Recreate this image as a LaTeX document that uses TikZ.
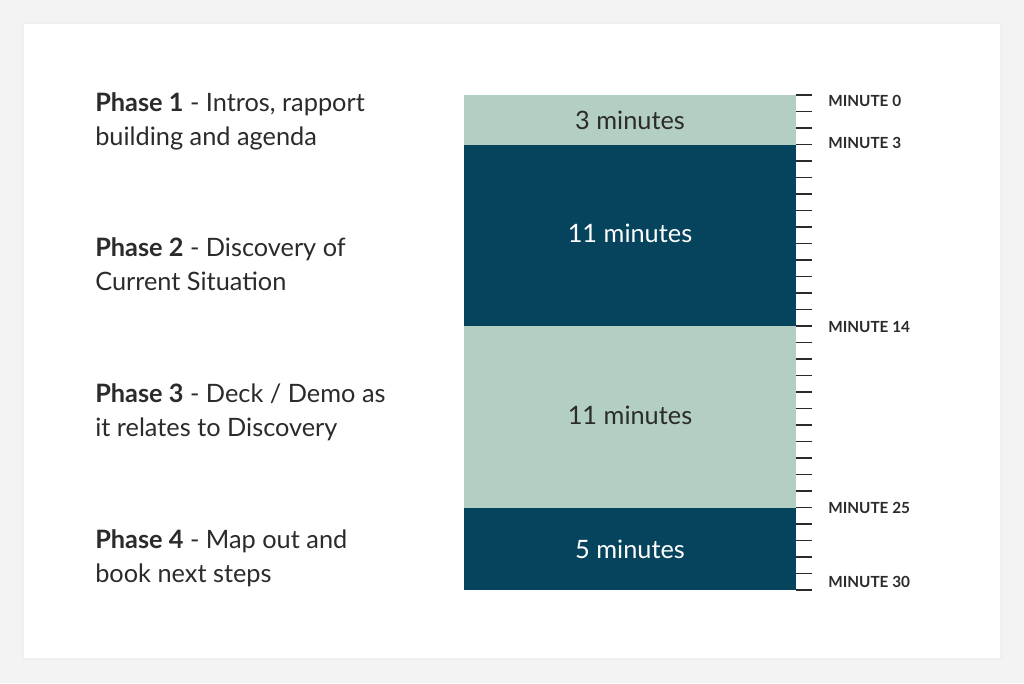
\documentclass[tikz,border=0pt]{standalone}
\usepackage{fontspec}
\setmainfont{Lato}
\usetikzlibrary{positioning}
\definecolor{sage}{HTML}{B2CFC2}
\definecolor{navy}{HTML}{06445E}
\definecolor{ink}{HTML}{2B2B2B}
\definecolor{paper}{HTML}{F3F3F3}
\tikzset{
  phase/.style={anchor=north west, align=left, text=ink, inner sep=0pt, font=\fontsize{19}{25.5}\selectfont},
  minute/.style={anchor=west, text=ink, inner sep=0pt, font=\fontsize{11.5}{12}\selectfont\bfseries},
  lightbar/.style={fill=sage, draw=none},
  darkbar/.style={fill=navy, draw=none},
  barlabel/.style={font=\fontsize{19}{20}\selectfont}
}
\begin{document}
\begin{tikzpicture}[x=0.75pt,y=-0.75pt]
        \fill [paper] (0,0) rectangle (1024,683);
        \fill [black!6] (22,22) rectangle (1003,661);
        \fill [white] (24,24) rectangle (1000,658);
        % bars, 16.5px per minute from y=95
        \fill [lightbar] (464,95) rectangle (796,144.5);
        \fill [darkbar] (464,144.5) rectangle (796,326);
        \fill [lightbar] (464,326) rectangle (796,507.5);
        \fill [darkbar] (464,507.5) rectangle (796,590);
        \node [barlabel, text=ink] (b1) at (630,120) {3 minutes};
        \node [barlabel, text=white] (b2) at (630,233) {11 minutes};
        \node [barlabel, text=ink] (b3) at (630,415) {11 minutes};
        \node [barlabel, text=white] (b4) at (630,549) {5 minutes};
        % ticks
        \foreach \m in {0,...,30}
            \draw [ink, line width=0.9pt] (796,95+16.5*\m) -- (812,95+16.5*\m);
        \node [minute] (m0) at (828,101) {MINUTE 0};
        \node [minute] (m3) at (828,143) {MINUTE 3};
        \node [minute] (m14) at (828,327) {MINUTE 14};
        \node [minute] (m25) at (828,508) {MINUTE 25};
        \node [minute] (m30) at (828,582) {MINUTE 30};
        % phases
        \node [phase] (p1) at (95,92) {\textbf{Phase 1} - Intros, rapport\\building and agenda};
        \node [phase] (p2) at (95,237) {\textbf{Phase 2} - Discovery of\\Current Situation};
        \node [phase] (p3) at (95,383) {\textbf{Phase 3} - Deck / Demo as\\it relates to Discovery};
        \node [phase] (p4) at (95,529) {\textbf{Phase 4} - Map out and\\book next steps};
\end{tikzpicture}
\end{document}
